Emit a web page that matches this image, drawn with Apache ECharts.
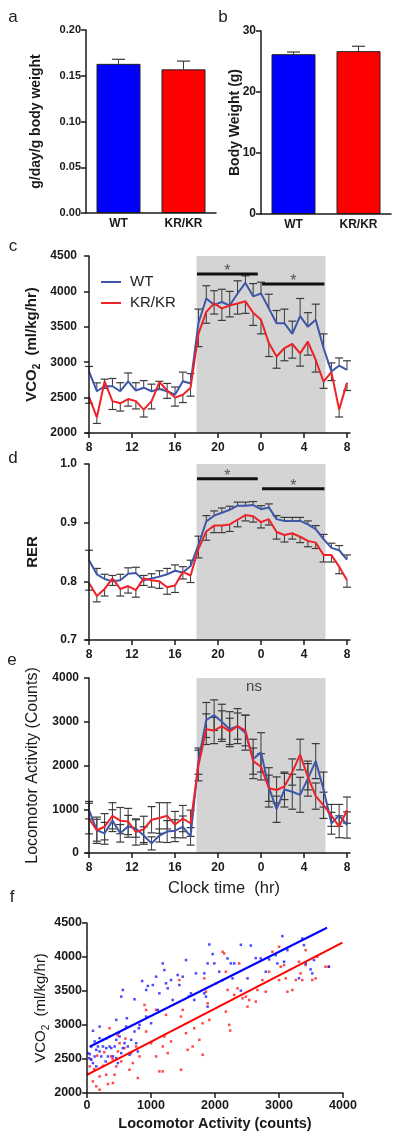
<!DOCTYPE html>
<html><head><meta charset="utf-8">
<script src="https://cdn.jsdelivr.net/npm/echarts@6/dist/echarts.min.js"></script>
<style>html,body{margin:0;padding:0;background:#fff}#c{width:400px;height:1141px}</style>
</head><body><div id="c"></div>
<script>
// ---------- DATA ----------
const groups = ['WT', 'KR/KR'];
const foodIntake = [0.163, 0.157];
const foodIntakeErr = [0.005, 0.009];
const bodyWeight = [26.2, 26.7];
const bodyWeightErr = [0.35, 0.8];

// hours after 08:00
const hours = [0,0.73,1.45,2.18,2.91,3.64,4.36,5.09,5.82,6.55,7.27,8,8.73,9.45,10.18,10.91,11.64,12.36,13.09,13.82,14.55,15.27,16,16.73,17.45,18.18,18.91,19.64,20.36,21.09,21.82,22.55,23.27,24];
const clockTicks = [0,4,8,12,16,20,24];
const nightStart = 10, nightEnd = 22;

const vco2WT = [2870,2590,2660,2660,2590,2730,2600,2640,2590,2620,2590,2540,2730,2700,3550,3900,3810,3850,3800,3970,4120,3930,3970,3760,3550,3550,3400,3650,3500,3600,3200,2870,2950,2890];
const vco2WTErr = [70,118,100,110,120,118,110,100,100,110,110,110,130,140,200,180,200,180,200,180,100,180,160,200,180,200,180,250,200,220,200,120,110,130];
const vco2KR = [2510,2220,2730,2450,2420,2480,2450,2330,2450,2720,2600,2500,2540,2640,3400,3710,3830,3760,3800,3830,3860,3700,3600,3270,3080,3200,3257,3125,3290,3031,2725,2860,2330,2710];
const vco2KRErr = [90,85,100,118,110,100,110,104,110,100,110,120,110,120,180,160,150,170,160,150,170,180,200,190,165,180,200,180,190,170,94,120,104,110];
const vco2Sig = [[10.05, 15.7, 4245, '*'], [16.1, 21.9, 4104, '*']];

const rerWT = [0.836,0.812,0.804,0.800,0.802,0.813,0.814,0.802,0.805,0.808,0.812,0.818,0.815,0.826,0.862,0.902,0.912,0.917,0.922,0.929,0.929,0.930,0.923,0.926,0.906,0.903,0.903,0.903,0.897,0.889,0.872,0.857,0.853,0.837];
const rerWTErr = [0.017,0.01,0.008,0.01,0.01,0.01,0.01,0.008,0.008,0.01,0.01,0.01,0.01,0.01,0.015,0.01,0.008,0.008,0.006,0.006,0.006,0.006,0.006,0.006,0.006,0.006,0.006,0.006,0.006,0.006,0.008,0.008,0.008,0.008];
const rerKR = [0.797,0.775,0.787,0.805,0.787,0.792,0.785,0.805,0.802,0.800,0.790,0.793,0.816,0.810,0.855,0.885,0.895,0.895,0.897,0.905,0.913,0.911,0.901,0.906,0.884,0.879,0.882,0.876,0.869,0.866,0.845,0.845,0.825,0.802];
const rerKRErr = [0.012,0.01,0.012,0.012,0.012,0.012,0.012,0.012,0.012,0.012,0.012,0.012,0.012,0.012,0.015,0.015,0.012,0.012,0.012,0.012,0.01,0.01,0.01,0.01,0.012,0.012,0.01,0.01,0.01,0.01,0.012,0.012,0.012,0.012];
const rerSig = [[10.05, 15.7, 0.975, '*'], [16.1, 21.9, 0.958, '*']];

const actWT = [979,520,450,740,450,610,560,400,220,400,490,510,596,380,2100,3040,3150,3000,2830,2900,2750,2150,2300,1500,1000,1450,1400,1330,1700,2100,1450,680,860,640];
const actWTErr = [200,250,250,250,200,250,200,200,150,150,250,250,250,200,300,400,350,400,400,400,400,450,450,450,300,400,400,400,400,400,400,250,250,300];
const actKR = [787,520,600,850,740,720,480,540,760,800,850,650,787,680,2000,2830,2800,2900,2780,2900,2800,2100,1970,1480,1440,1520,1850,2250,1743,1300,1090,860,600,980];
const actKRErr = [350,300,300,300,300,300,300,300,300,350,300,300,300,300,350,350,300,350,300,300,350,300,300,300,300,300,300,350,300,300,300,250,250,300];

const scatterWT = [[16,2586],[31,2513],[42,2572],[67,2684],[67,2489],[93,2914],[93,2440],[119,2537],[119,2758],[145,2635],[145,2391],[171,2684],[197,2806],[197,2611],[197,2977],[223,2538],[249,2684],[249,2782],[291,2464],[301,2660],[311,2806],[327,2538],[353,2684],[353,2831],[379,2660],[405,2538],[431,2684],[457,2782],[457,2513],[457,3075],[483,2440],[498,2889],[509,2831],[535,2586],[535,3417],[560,3515],[560,2660],[586,2733],[612,2977],[623,3100],[638,2684],[664,2562],[690,2782],[742,3378],[742,2904],[768,2733],[794,2611],[810,2953],[820,3002],[862,3647],[924,3515],[924,3124],[950,3574],[1002,3026],[1028,3588],[1080,3710],[1106,3222],[1131,3466],[1183,3906],[1209,3808],[1235,3613],[1261,3539],[1313,3661],[1339,3368],[1417,3735],[1443,3588],[1495,3710],[1547,3955],[1590,3420],[1624,3466],[1676,3368],[1702,3759],[1833,3759],[1833,3466],[1859,3417],[1885,3270],[1885,3906],[1911,4184],[1963,4043],[1989,3906],[2066,3784],[2118,3661],[2196,3979],[2248,3906],[2274,3686],[2300,3906],[2404,4179],[2404,3505],[2508,3686],[2560,4169],[2637,3984],[2715,3979],[2793,3784],[2845,3965],[2949,4028],[2975,3906],[3053,4307],[3079,3930],[3131,4101],[3312,3686],[3364,4272],[3390,4175],[3416,3906],[3494,3818],[3520,3759],[3546,3955],[3779,3857]];
const scatterKR = [[20,2280],[42,2391],[60,2500],[93,2171],[110,2350],[145,2098],[160,2550],[197,2244],[197,2049],[250,2400],[270,2600],[301,2269],[327,2132],[353,2953],[379,2538],[400,2500],[405,2147],[431,2269],[457,2391],[480,2850],[483,2611],[509,2733],[535,2464],[586,2660],[600,2800],[664,2342],[690,2586],[716,2440],[768,2684],[794,2220],[820,2538],[898,3295],[924,2904],[924,3222],[1002,2733],[1080,2538],[1080,3222],[1131,2318],[1183,2318],[1183,2684],[1209,2831],[1235,3149],[1261,2586],[1313,2758],[1443,3661],[1469,3124],[1469,2342],[1495,3222],[1547,2880],[1573,2635],[1650,2684],[1676,2953],[1755,2782],[1807,3026],[1807,2562],[1833,3686],[1859,3490],[1885,3320],[1911,3075],[2015,3613],[2118,4077],[2144,4052],[2170,3784],[2196,3515],[2170,3197],[2222,3002],[2238,2919],[2300,3442],[2352,3539],[2378,3906],[2430,3393],[2482,3417],[2508,3270],[2534,3368],[2637,3344],[2663,3515],[2741,3661],[2793,3490],[2845,3784],[2897,4077],[3001,3661],[3001,4150],[3027,3857],[3079,3881],[3105,3686],[3131,3490],[3209,3515],[3261,3661],[3312,3930],[3338,3759],[3364,3661],[3416,4101],[3416,3881],[3520,3661],[3572,3686],[3598,4003],[3727,3857],[3779,3857]];
const fitWT = [[40, 2680], [3750, 4430]];
const fitKR = [[0, 2268], [3990, 4210]];

// ---------- STYLE ----------
const FONT = 'Liberation Sans, Arial, sans-serif';
const BLUE_BAR = '#0000ff', RED_BAR = '#ff0000';
const BLUE_LINE = '#3d56a8', RED_LINE = '#ee2228';
const ERR = '#3a3a3a';
const axLine = {show: true, lineStyle: {color: '#1a1a1a', width: 1.5}};
const tickLbl = (size, margin) => ({fontFamily: FONT, fontWeight: 'bold', fontSize: size, color: '#1a1a1a', margin});

function errRender(dir, capW) {
  return function (params, api) {
    const x = api.value(0), y = api.value(1), e = api.value(2);
    const p = api.coord([x, y]);
    const kids = [];
    const one = (s) => {
      const q = api.coord([x, y + s * e]);
      kids.push({type: 'line', shape: {x1: p[0], y1: p[1], x2: q[0], y2: q[1]}, style: {stroke: ERR, lineWidth: 1}});
      kids.push({type: 'line', shape: {x1: q[0] - capW / 2, y1: q[1], x2: q[0] + capW / 2, y2: q[1]}, style: {stroke: ERR, lineWidth: 1.2}});
    };
    if (dir >= 0) one(1);
    if (dir <= 0) one(-1);
    return {type: 'group', children: kids};
  };
}
function sigRender(params, api) {
  const a = api.coord([api.value(0), api.value(2)]);
  const b = api.coord([api.value(1), api.value(2)]);
  return {type: 'group', children: [
    {type: 'line', shape: {x1: a[0], y1: a[1], x2: b[0], y2: b[1]}, style: {stroke: '#111', lineWidth: 3}},
    {type: 'text', x: (a[0] + b[0]) / 2, y: a[1] + 6, style: {text: api.value(3), fill: '#555', font: '16px ' + FONT, align: 'center', verticalAlign: 'bottom'}}
  ]};
}

const timeX = (gi) => ({
  type: 'value', gridIndex: gi, min: -0.28, max: 24.28, z: 10,
  axisLine: axLine,
  axisTick: {show: true, length: 5, customValues: clockTicks, lineStyle: {color: '#1a1a1a', width: 1.5}},
  axisLabel: Object.assign(tickLbl(12, 9), {customValues: clockTicks, formatter: v => String((Math.round(v) + 8) % 24)}),
  splitLine: {show: false}
});
const valY = (gi, min, max, interval, dec, size, margin, name, gap, nameStyle) => ({
  type: 'value', gridIndex: gi, min, max, interval, z: 10,
  axisLine: axLine,
  axisTick: {show: true, length: 5, lineStyle: {color: '#1a1a1a', width: 1.5}},
  axisLabel: Object.assign(tickLbl(size, margin), {formatter: v => v.toFixed(dec)}),
  splitLine: {show: false},
  name, nameLocation: 'middle', nameGap: gap, nameMoveOverlap: false,
  nameTextStyle: Object.assign({fontFamily: FONT, color: '#1a1a1a'}, nameStyle)
});
const catX = (gi) => ({
  type: 'category', gridIndex: gi, data: groups, z: 10,
  axisLine: axLine, axisTick: {show: false},
  axisLabel: tickLbl(12, 5)
});

const tri = (xs, ys, es) => xs.map((h, i) => [h, ys[i], es[i]]);
const shade = (xi, yi, ymin, label) => ({
  type: 'line', xAxisIndex: xi, yAxisIndex: yi, z: 1, data: [[nightStart, ymin]],
  symbol: 'none', lineStyle: {opacity: 0}, silent: true,
  markArea: {silent: true, itemStyle: {color: '#d4d4d4'},
    label: label ? {show: true, position: 'insideTop', distance: 1, offset: [-7, 0], formatter: label, fontFamily: FONT, fontSize: 15, color: '#444'} : {show: false},
    data: [[{xAxis: nightStart}, {xAxis: nightEnd}]]}
});
const lineS = (name, xi, yi, ys, color) => ({
  type: 'line', name, xAxisIndex: xi, yAxisIndex: yi, z: 4,
  data: hours.map((h, i) => [h, ys[i]]), symbol: 'none',
  lineStyle: {color, width: 2}, itemStyle: {color}
});
const errS = (xi, yi, data, dir, capW) => ({
  type: 'custom', xAxisIndex: xi, yAxisIndex: yi, z: 3, silent: true,
  renderItem: errRender(dir, capW), data
});

const option = {
  animation: false,
  backgroundColor: '#fff',
  grid: [
    {left: 86, top: 30, width: 130, height: 183},
    {left: 261, top: 31, width: 130, height: 183},
    {left: 86, top: 256, width: 264, height: 177},
    {left: 86, top: 464, width: 264, height: 176},
    {left: 86, top: 678, width: 264, height: 175},
    {left: 87, top: 923, width: 256, height: 170}
  ],
  xAxis: [
    catX(0), catX(1), timeX(2), timeX(3), timeX(4),
    {type: 'value', gridIndex: 5, min: 0, max: 4000, interval: 1000, z: 10,
     axisLine: axLine, axisTick: {show: true, length: 5, lineStyle: {color: '#1a1a1a', width: 1.5}},
     axisLabel: Object.assign(tickLbl(12.5, 6), {formatter: v => String(v)}), splitLine: {show: false},
     name: 'Locomotor Activity (counts)', nameLocation: 'middle', nameGap: 23, nameMoveOverlap: false,
     nameTextStyle: {fontFamily: FONT, fontWeight: 'bold', fontSize: 14.5, color: '#1a1a1a'}}
  ],
  yAxis: [
    valY(0, 0, 0.2, 0.05, 2, 11, 5, 'g/day/g body weight', 43, {fontSize: 14, fontWeight: 'bold'}),
    valY(1, 0, 30, 10, 0, 12, 5, 'Body Weight (g)', 19, {fontSize: 14, fontWeight: 'bold'}),
    valY(2, 2000, 4500, 500, 0, 12, 9, 'VCO{sub|2}  (ml/kg/hr)', 44, {fontSize: 15, fontWeight: 'bold', lineHeight: 20,
      rich: {sub: {fontFamily: FONT, fontSize: 10, fontWeight: 'bold', color: '#1a1a1a', verticalAlign: 'bottom', lineHeight: 20}}}),
    valY(3, 0.7, 1.0, 0.1, 1, 12, 9, 'RER', 46, {fontSize: 15, fontWeight: 'bold'}),
    valY(4, 0, 4000, 1000, 0, 12, 7, 'Locomotor Activity (Counts)', 45, {fontSize: 16}),
    valY(5, 2000, 4500, 500, 0, 12.5, 5, 'VCO{sub|2}  (ml/kg/hr)', 36, {fontSize: 15, lineHeight: 20,
      rich: {sub: {fontFamily: FONT, fontSize: 10, color: '#1a1a1a', verticalAlign: 'bottom', lineHeight: 20}}})
  ],
  legend: {
    left: 96, top: 268, orient: 'vertical', itemWidth: 20, itemHeight: 2, itemGap: 3,
    data: [{name: 'WT', icon: 'rect'}, {name: 'KR/KR', icon: 'rect'}],
    textStyle: {fontFamily: FONT, fontSize: 15, color: '#222', lineHeight: 18, padding: [0, 0, 0, 4]}
  },
  series: [
    // a
    {type: 'bar', xAxisIndex: 0, yAxisIndex: 0, barWidth: 44, z: 2,
     data: foodIntake.map((v, i) => ({value: v, itemStyle: {color: i ? RED_BAR : BLUE_BAR}})),
     itemStyle: {borderColor: '#222', borderWidth: 1}},
    errS(0, 0, foodIntake.map((v, i) => [i, v, foodIntakeErr[i]]), 1, 13),
    // b
    {type: 'bar', xAxisIndex: 1, yAxisIndex: 1, barWidth: 44, z: 2,
     data: bodyWeight.map((v, i) => ({value: v, itemStyle: {color: i ? RED_BAR : BLUE_BAR}})),
     itemStyle: {borderColor: '#222', borderWidth: 1}},
    errS(1, 1, bodyWeight.map((v, i) => [i, v, bodyWeightErr[i]]), 1, 13),
    // c
    shade(2, 2, 2000),
    errS(2, 2, tri(hours, vco2WT, vco2WTErr), 1, 8),
    errS(2, 2, tri(hours, vco2KR, vco2KRErr), -1, 8),
    lineS('WT', 2, 2, vco2WT, BLUE_LINE),
    lineS('KR/KR', 2, 2, vco2KR, RED_LINE),
    {type: 'custom', xAxisIndex: 2, yAxisIndex: 2, z: 5, silent: true, renderItem: sigRender, data: vco2Sig},
    // d
    shade(3, 3, 0.7),
    errS(3, 3, tri(hours, rerWT, rerWTErr), 1, 8),
    errS(3, 3, tri(hours, rerKR, rerKRErr), -1, 8),
    lineS('WT-rer', 3, 3, rerWT, BLUE_LINE),
    lineS('KR-rer', 3, 3, rerKR, RED_LINE),
    {type: 'custom', xAxisIndex: 3, yAxisIndex: 3, z: 5, silent: true, renderItem: sigRender, data: rerSig},
    // e
    shade(4, 4, 0, 'ns'),
    errS(4, 4, tri(hours, actWT, actWTErr), 0, 8),
    errS(4, 4, tri(hours, actKR, actKRErr), 0, 8),
    lineS('WT-act', 4, 4, actWT, BLUE_LINE),
    lineS('KR-act', 4, 4, actKR, RED_LINE),
    // f
    {type: 'scatter', xAxisIndex: 5, yAxisIndex: 5, data: scatterKR, symbol: 'rect', symbolSize: 2.5, itemStyle: {color: '#ff1c1c'}, z: 3},
    {type: 'scatter', xAxisIndex: 5, yAxisIndex: 5, data: scatterWT, symbol: 'rect', symbolSize: 2.5, itemStyle: {color: '#1c1cff'}, z: 3},
    {type: 'line', xAxisIndex: 5, yAxisIndex: 5, data: fitWT, symbol: 'none', lineStyle: {color: '#0000ff', width: 2}, z: 4},
    {type: 'line', xAxisIndex: 5, yAxisIndex: 5, data: fitKR, symbol: 'none', lineStyle: {color: '#ff0000', width: 2}, z: 4}
  ],
  graphic: [
    {type: 'text', x: 13, y: 17, style: {text: 'a', font: '17px ' + FONT, fill: '#222', align: 'center', verticalAlign: 'middle'}},
    {type: 'text', x: 223, y: 17, style: {text: 'b', font: '17px ' + FONT, fill: '#222', align: 'center', verticalAlign: 'middle'}},
    {type: 'text', x: 13, y: 246, style: {text: 'c', font: '17px ' + FONT, fill: '#222', align: 'center', verticalAlign: 'middle'}},
    {type: 'text', x: 13, y: 458, style: {text: 'd', font: '17px ' + FONT, fill: '#222', align: 'center', verticalAlign: 'middle'}},
    {type: 'text', x: 12, y: 660, style: {text: 'e', font: '17px ' + FONT, fill: '#222', align: 'center', verticalAlign: 'middle'}},
    {type: 'text', x: 12, y: 897, style: {text: 'f', font: '17px ' + FONT, fill: '#222', align: 'center', verticalAlign: 'middle'}},
    {type: 'text', x: 224, y: 888, style: {text: 'Clock time  (hr)', font: '16.5px ' + FONT, fill: '#222', align: 'center', verticalAlign: 'middle'}}
  ]
};
const chart = echarts.init(document.getElementById('c'), null, {renderer: 'canvas', width: 400, height: 1141});
chart.setOption(option);
</script>
</body></html>
